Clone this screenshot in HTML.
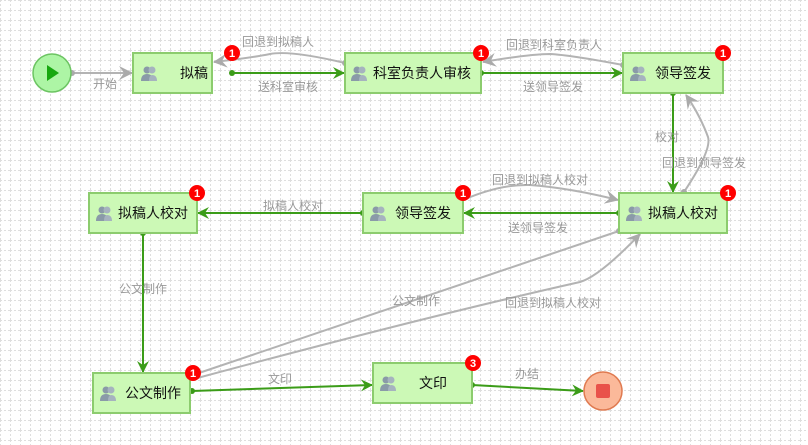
<!DOCTYPE html>
<html><head><meta charset="utf-8"><style>
html,body{margin:0;padding:0;background:#fff;}
svg{display:block;font-family:"Liberation Sans","Noto Sans CJK SC",sans-serif;}
.n{fill:#ccf9b6;stroke:#8ccc6e;stroke-width:2;}
.t{font-size:14px;fill:#111;}
.l{font-size:12px;fill:#999;}
.g{stroke:#3b9c18;stroke-width:2;fill:none;}
.y{stroke:#b3b3b3;stroke-width:2;fill:none;}
.b{font-size:11px;fill:#fff;font-weight:bold;}
</style></head><body>
<svg width="808" height="445" viewBox="0 0 808 445">
<defs>
<pattern id="grid" width="10" height="10" patternUnits="userSpaceOnUse">
<path d="M0 0.5H10M0.5 0V10" stroke="#dedede" stroke-width="1" stroke-dasharray="2,2" fill="none"/>
</pattern>
<marker id="ag" markerWidth="12" markerHeight="12" refX="11" refY="6" orient="auto" markerUnits="userSpaceOnUse"><path d="M0,0L12,6L0,12L4,6Z" fill="#3b9c18"/></marker>
<marker id="ay" markerWidth="14" markerHeight="14" refX="13" refY="7" orient="auto" markerUnits="userSpaceOnUse"><path d="M0,0L14,7L0,14L5,7Z" fill="#aaa"/></marker>
<g id="ic"><circle cx="5" cy="-4" r="3.5" fill="#8a9aa8"/><path d="M-1,7 Q-1,0 5,0 Q11,0 11,7Z" fill="#8a9aa8"/><circle cx="10" cy="-4" r="3.5" fill="#a6b3bf"/><path d="M7,7 Q7,1 10,1 Q15,1 15,7Z" fill="#a6b3bf"/></g>
</defs>
<rect width="808" height="445" fill="url(#grid)"/>

<line class="y" x1="72" y1="73" x2="132" y2="73" marker-end="url(#ay)"/><circle cx="72" cy="73" r="3" fill="#aaa"/>
<text class="l" x="93" y="88">开始</text>
<line class="g" x1="232" y1="73" x2="344" y2="73" marker-end="url(#ag)"/><circle cx="232" cy="73" r="3" fill="#3b9c18"/>
<text class="l" x="258" y="91">送科室审核</text>
<path class="y" d="M345,63 Q290,50 270,54 Q250,58 214,62" marker-end="url(#ay)"/><circle cx="345" cy="63" r="3" fill="#aaa"/>
<text class="l" x="242" y="46">回退到拟稿人</text>
<line class="g" x1="481" y1="73" x2="622" y2="73" marker-end="url(#ag)"/><circle cx="481" cy="73" r="3" fill="#3b9c18"/>
<text class="l" x="523" y="91">送领导签发</text>
<path class="y" d="M623,65 Q570,55 550,54 Q530,54 483,62" marker-end="url(#ay)"/><circle cx="623" cy="65" r="3" fill="#aaa"/>
<text class="l" x="506" y="49">回退到科室负责人</text>
<line class="g" x1="673" y1="93" x2="673" y2="192" marker-end="url(#ag)"/><circle cx="673" cy="93" r="3" fill="#3b9c18"/>
<text class="l" x="655" y="141">校对</text>
<path class="y" d="M684,192 Q712,150 708,137 Q700,115 686,95" marker-end="url(#ay)"/><circle cx="684" cy="192" r="3" fill="#aaa"/>
<text class="l" x="662" y="167">回退到领导签发</text>
<line class="g" x1="619" y1="213" x2="464" y2="213" marker-end="url(#ag)"/><circle cx="619" cy="213" r="3" fill="#3b9c18"/>
<text class="l" x="508" y="232">送领导签发</text>
<path class="y" d="M463,200 Q500,184 530,185 Q570,188 618,200" marker-end="url(#ay)"/>
<text class="l" x="492" y="184">回退到拟稿人校对</text>
<line class="g" x1="363" y1="213" x2="198" y2="213" marker-end="url(#ag)"/><circle cx="363" cy="213" r="3" fill="#3b9c18"/>
<text class="l" x="263" y="210">拟稿人校对</text>
<line class="g" x1="143" y1="233" x2="143" y2="372" marker-end="url(#ag)"/><circle cx="143" cy="233" r="3" fill="#3b9c18"/>
<text class="l" x="119" y="293">公文制作</text>
<line class="y" x1="190" y1="376" x2="619" y2="231"/><circle cx="619" cy="231" r="3" fill="#aaa"/>
<text class="l" x="392" y="305">公文制作</text>
<path class="y" d="M190,380 Q420,318 580,282 Q600,276 640,234" marker-end="url(#ay)"/>
<text class="l" x="505" y="307">回退到拟稿人校对</text>
<line class="g" x1="192" y1="391" x2="372" y2="385" marker-end="url(#ag)"/><circle cx="192" cy="391" r="3" fill="#3b9c18"/>
<text class="l" x="268" y="383">文印</text>
<line class="g" x1="472" y1="385" x2="583" y2="391" marker-end="url(#ag)"/><circle cx="472" cy="385" r="3" fill="#3b9c18"/>
<text class="l" x="515" y="378">办结</text>

<circle cx="52" cy="73" r="19" fill="#adf5a5" stroke="#6cc462" stroke-width="1.5"/>
<path d="M47,65 L59,73 L47,81Z" fill="#17a80f"/>
<circle cx="603" cy="391" r="19" fill="#fbb99a" stroke="#e07a50" stroke-width="1.5"/>
<rect x="596" y="384" width="14" height="14" rx="2" fill="#e9524a"/>

<rect class="n" x="133" y="53" width="79" height="40"/><use href="#ic" x="142" y="74"/><text class="t" x="180" y="78">拟稿</text>
<rect class="n" x="345" y="53" width="136" height="40"/><use href="#ic" x="352" y="74"/><text class="t" x="373" y="78">科室负责人审核</text>
<rect class="n" x="623" y="53" width="100" height="40"/><use href="#ic" x="631" y="74"/><text class="t" x="655" y="78">领导签发</text>
<rect class="n" x="619" y="193" width="108" height="40"/><use href="#ic" x="627" y="214"/><text class="t" x="648" y="218">拟稿人校对</text>
<rect class="n" x="363" y="193" width="100" height="40"/><use href="#ic" x="371" y="214"/><text class="t" x="395" y="218">领导签发</text>
<rect class="n" x="89" y="193" width="108" height="40"/><use href="#ic" x="97" y="214"/><text class="t" x="118" y="218">拟稿人校对</text>
<rect class="n" x="93" y="373" width="97" height="40"/><use href="#ic" x="101" y="394"/><text class="t" x="125" y="398">公文制作</text>
<rect class="n" x="373" y="363" width="99" height="40"/><use href="#ic" x="381" y="384"/><text class="t" x="419" y="388">文印</text>

<g>
<circle cx="232" cy="53" r="8" fill="#f00"/><text class="b" x="232" y="57" text-anchor="middle">1</text>
<circle cx="481" cy="53" r="8" fill="#f00"/><text class="b" x="481" y="57" text-anchor="middle">1</text>
<circle cx="723" cy="53" r="8" fill="#f00"/><text class="b" x="723" y="57" text-anchor="middle">1</text>
<circle cx="728" cy="193" r="8" fill="#f00"/><text class="b" x="728" y="197" text-anchor="middle">1</text>
<circle cx="463" cy="193" r="8" fill="#f00"/><text class="b" x="463" y="197" text-anchor="middle">1</text>
<circle cx="197" cy="193" r="8" fill="#f00"/><text class="b" x="197" y="197" text-anchor="middle">1</text>
<circle cx="193" cy="373" r="8" fill="#f00"/><text class="b" x="193" y="377" text-anchor="middle">1</text>
<circle cx="473" cy="363" r="8" fill="#f00"/><text class="b" x="473" y="367" text-anchor="middle">3</text>
</g>
</svg>
</body></html>
